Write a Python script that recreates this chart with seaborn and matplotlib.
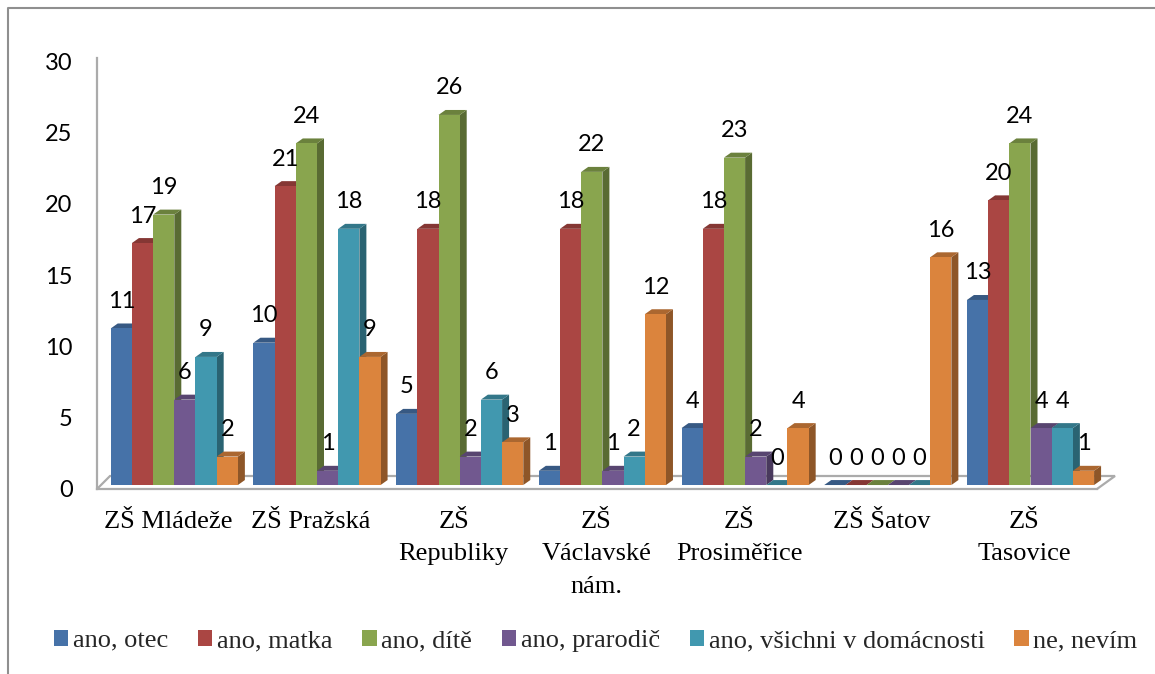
import matplotlib
matplotlib.use("Agg")
import matplotlib.pyplot as plt
from matplotlib.colors import to_rgb
from matplotlib.lines import Line2D
from matplotlib.patches import Polygon
from matplotlib.transforms import ScaledTranslation
import pandas as pd
import seaborn as sns

schools = ["ZŠ Mládeže", "ZŠ Pražská", "ZŠ\nRepubliky", "ZŠ\nVáclavské\nnám.",
           "ZŠ\nProsiměřice", "ZŠ Šatov", "ZŠ\nTasovice"]
otec = [11, 10, 5, 1, 4, 0, 13]
matka = [17, 21, 18, 18, 18, 0, 20]
dite = [19, 24, 26, 22, 23, 0, 24]
prarodic = [6, 1, 2, 1, 2, 0, 4]
vsichni = [9, 18, 6, 2, 0, 0, 4]
nevim = [2, 9, 3, 12, 4, 16, 1]
series_names = ["ano, otec", "ano, matka", "ano, dítě", "ano, prarodič",
                "ano, všichni v domácnosti", "ne, nevím"]
series_values = [otec, matka, dite, prarodic, vsichni, nevim]
colors = ["#4672A8", "#AA4643", "#89A54E", "#71588F", "#4198AF", "#DB843D"]
y_ticks = [0, 5, 10, 15, 20, 25, 30]

W, H = 1155, 674
PX_UNIT = 14.33
GROUP_PX = 142.7
DEPTH_X, DEPTH_Y = 7.0, 5.0
L, R, B, T = 97, 1115, 489, 58
ZERO = 485

df = pd.DataFrame(
    [{"school": s, "series": n, "value": v}
     for n, vals in zip(series_names, series_values)
     for s, v in zip(schools, vals)]
)

sns.set_theme(style="white")
plt.rcParams["font.family"] = ["Liberation Serif", "DejaVu Serif"]

fig = plt.figure(figsize=(W / 100, H / 100), dpi=100)
ax = fig.add_axes([L / W, (H - B) / H, (R - L) / W, (B - T) / H])
ax.patch.set_alpha(0)

sns.barplot(data=df, x="school", y="value", hue="series", order=schools,
            hue_order=series_names, palette=colors, saturation=1,
            width=0.891, gap=0, ax=ax, linewidth=0, errorbar=None)

ax.set_xlim(-(174.3 - L) / GROUP_PX, (R - 174.3) / GROUP_PX)
ax.set_ylim(-(B - ZERO) / PX_UNIT, (ZERO - T) / PX_UNIT)
ax.set_xlabel("")
ax.set_ylabel("")


def shade(c, f):
    return tuple(x * f for x in to_rgb(c))


dx = DEPTH_X / GROUP_PX
dy = DEPTH_Y / PX_UNIT
for i, (container, col) in enumerate(zip(ax.containers, colors)):
    for patch in container:
        x0, w, h = patch.get_x(), patch.get_width(), patch.get_height()
        patch.set_zorder(4 + i)
        top = Polygon([(x0, h), (x0 + w, h), (x0 + w + dx, h + dy), (x0 + dx, h + dy)],
                      closed=True, fc=shade(col, 0.78), ec="none", zorder=3.9 + i)
        side = Polygon([(x0 + w, 0), (x0 + w + dx, dy), (x0 + w + dx, h + dy), (x0 + w, h)],
                       closed=True, fc=shade(col, 0.65), ec="none", zorder=3.8 + i)
        ax.add_patch(top)
        ax.add_patch(side)
        ax.annotate(f"{int(h)}", (x0 + w / 2, h), xytext=(0, 27 * 0.72),
                    textcoords="offset points", ha="center", va="center",
                    fontsize=17, family="Lato", color="black", zorder=30,
                    annotation_clip=False)

# chart frame, wall and floor
grey = "#ababab"
for s in ("top", "right"):
    ax.spines[s].set_visible(False)
for s in ("left", "bottom"):
    ax.spines[s].set_color(grey)
    ax.spines[s].set_linewidth(1.6)
front_end = (1097 - L) / (R - L)
ax.spines["bottom"].set_bounds(ax.get_xlim()[0],
                               ax.get_xlim()[0] + front_end * (ax.get_xlim()[1] - ax.get_xlim()[0]))
back_y = (B - 476) / (B - T)
back_x = (110 - L) / (R - L)
ax.plot([0, back_x, 1, front_end], [0, back_y, back_y, 0], color=grey, lw=1.6,
        transform=ax.transAxes, clip_on=False, zorder=1, solid_joinstyle="miter")

# ticks and their labels
ax.set_yticks(y_ticks)
ax.set_yticklabels([str(t) for t in y_ticks], fontsize=17, family="Lato", color="black")
ax.tick_params(axis="y", length=0, pad=17.5)
ax.tick_params(axis="x", length=0, pad=16, labelsize=19, labelcolor="black")
for lab in ax.get_yticklabels():
    lab.set_transform(lab.get_transform() + ScaledTranslation(0, -3.5 / 100, fig.dpi_scale_trans))
for lab in ax.get_xticklabels():
    lab.set_transform(lab.get_transform() + ScaledTranslation(-6 / 100, 0, fig.dpi_scale_trans))
    lab.set_linespacing(1.6)

sns.move_legend(ax, "center", bbox_to_anchor=(595.5 / W, (H - 641) / H),
                bbox_transform=fig.transFigure, ncol=6, frameon=False, title=None,
                fontsize=19, handlelength=0.56, handleheight=0.56,
                handletextpad=0.16, columnspacing=1.13, borderpad=0, borderaxespad=0)

# outer frame of the chart object
frame = "#8f8f8f"
fig.add_artist(Line2D([8 / W, 8 / W, 1], [0, 1 - 8 / H, 1 - 8 / H], color=frame, lw=1.5,
                      transform=fig.transFigure))

fig.savefig("out.png", dpi=100, facecolor="white")
